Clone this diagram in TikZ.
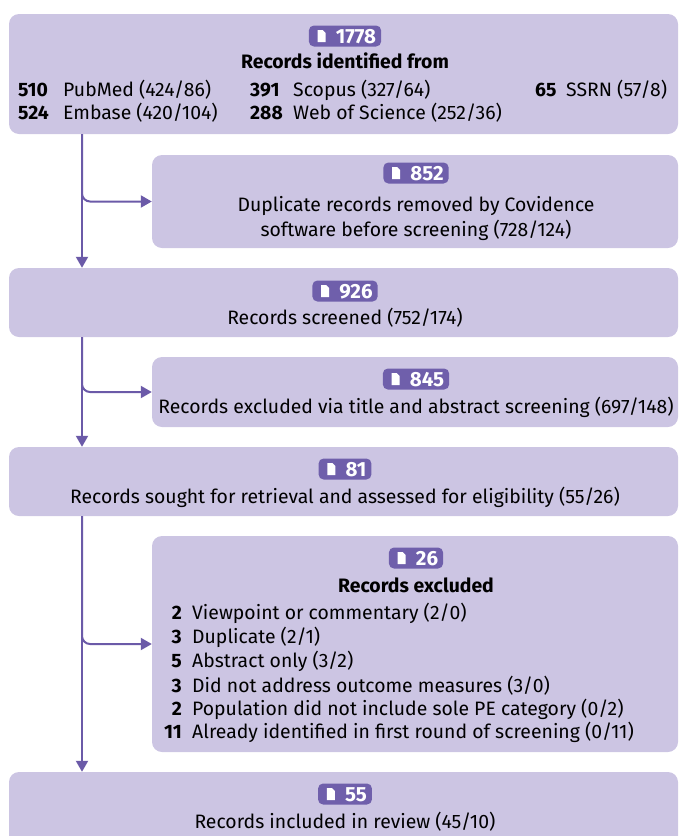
\documentclass[tikz,border=0pt]{standalone}
\usepackage{fontspec}
\setmainfont{Fira Sans}
\usetikzlibrary{arrows.meta}
\definecolor{boxfill}{HTML}{CCC5E3}
\definecolor{badgefill}{HTML}{6F5FAB}
\definecolor{linecol}{HTML}{6B5AA8}
\newcommand{\docicon}[1]{\fill[white] ([xshift=9pt,yshift=-6pt]#1.west) -- ++(0,-12) -- ++(5,0) -- ++(3,3) -- ++(0,9) -- cycle;}
\begin{document}
\begin{tikzpicture}[x=1pt,y=-1pt,
	box/.style={fill=boxfill,rounded corners=10pt,inner sep=0pt},
	badge/.style={fill=badgefill,text=white,font=\bfseries\fontsize{20.5}{20}\selectfont,rounded corners=5pt,inner xsep=5pt,inner ysep=0pt,minimum height=21pt,text height=14pt,text depth=0pt},
	txt/.style={anchor=base,inner sep=0pt,font=\fontsize{19.4}{24}\selectfont},
	num/.style={inner sep=0pt,font=\bfseries\fontsize{19.4}{24}\selectfont},
	arr/.style={draw=linecol,line width=2pt,-{Triangle[length=11pt,width=12pt]}}]
		\clip (0,0) rectangle (679,836);
		\coordinate (T) at (82,0);
		% boxes
		\node[box,minimum width=669pt,minimum height=120pt] (ident) at (343.5,74) {};
		\node[box,minimum width=526pt,minimum height=93pt] (dup) at (415,201.5) {};
		\node[box,minimum width=669pt,minimum height=69pt] (screen) at (343.5,302.5) {};
		\node[box,minimum width=526pt,minimum height=70pt] (titleexcl) at (415,392) {};
		\node[box,minimum width=669pt,minimum height=69pt] (sought) at (343.5,481.5) {};
		\node[box,minimum width=526pt,minimum height=216pt] (excl) at (415,644) {};
		\node[box,minimum width=669pt,minimum height=78pt] (incl) at (343.5,811) {};
		% identification
		\node[badge] (bident) at (345,36) {\hspace{22pt}1778};
		\docicon{bident}
		\node[txt,font=\bfseries\fontsize{19.4}{24}\selectfont] (tident) at (345,68) {Records identified from};
		\node[num,anchor=base west] (n510) at (18,96) {510};
		\node[txt,anchor=base west] (pubmed) at (63,96) {PubMed (424/86)};
		\node[num,anchor=base west] (n391) at (250,96) {391};
		\node[txt,anchor=base west] (scopus) at (293,96) {Scopus (327/64)};
		\node[num,anchor=base west] (n65) at (535,96) {65};
		\node[txt,anchor=base west] (ssrn) at (566,96) {SSRN (57/8)};
		\node[num,anchor=base west] (n524) at (18,119) {524};
		\node[txt,anchor=base west] (embase) at (63,119) {Embase (420/104)};
		\node[num,anchor=base west] (n288) at (250,119) {288};
		\node[txt,anchor=base west] (wos) at (293,119) {Web of Science (252/36)};
		% duplicates
		\node[badge] (bdup) at (416,173) {\hspace{22pt}852};
		\docicon{bdup}
		\node[txt] (tdup1) at (416,211) {Duplicate records removed by Covidence};
		\node[txt] (tdup2) at (416,236) {software before screening (728/124)};
		% screened
		\node[badge] (bscreen) at (345,291) {\hspace{22pt}926};
		\docicon{bscreen}
		\node[txt] (tscreen) at (345,324) {Records screened (752/174)};
		\node[badge] (btitle) at (416,379) {\hspace{22pt}845};
		\docicon{btitle}
		\node[txt] (ttitle) at (416,413) {Records excluded via title and abstract screening (697/148)};
		% eligibility
		\node[badge] (bsought) at (345,469) {\hspace{22pt}81};
		\docicon{bsought}
		\node[txt] (tsought) at (345,503) {Records sought for retrieval and assessed for eligibility (55/26)};
		\node[badge] (bexcl) at (416,558) {\hspace{22pt}26};
		\docicon{bexcl}
		\node[txt,font=\bfseries\fontsize{19.4}{24}\selectfont] (texcl) at (416,592) {Records excluded};
		\node[num,anchor=base east] (e1) at (182,619) {2};
		\node[txt,anchor=base west] (r1) at (192,619) {Viewpoint or commentary (2/0)};
		\node[num,anchor=base east] (e2) at (182,643) {3};
		\node[txt,anchor=base west] (r2) at (192,643) {Duplicate (2/1)};
		\node[num,anchor=base east] (e3) at (182,667) {5};
		\node[txt,anchor=base west] (r3) at (192,667) {Abstract only (3/2)};
		\node[num,anchor=base east] (e4) at (182,692) {3};
		\node[txt,anchor=base west] (r4) at (192,692) {Did not address outcome measures (3/0)};
		\node[num,anchor=base east] (e5) at (182,715) {2};
		\node[txt,anchor=base west] (r5) at (192,715) {Population did not include sole PE category (0/2)};
		\node[num,anchor=base east] (e6) at (182,738) {11};
		\node[txt,anchor=base west] (r6) at (192,738) {Already identified in first round of screening (0/11)};
		% included
		\node[badge] (bincl) at (345,794) {\hspace{22pt}55};
		\docicon{bincl}
		\node[txt] (tincl) at (345,828) {Records included in review (45/10)};
		% arrows
		\draw[arr] (ident.south -| T) -- (screen.north -| T);
		\draw[arr,rounded corners=8pt] (ident.south -| T) |- (dup.west);
		\draw[arr] (screen.south -| T) -- (sought.north -| T);
		\draw[arr,rounded corners=8pt] (screen.south -| T) |- (titleexcl.west);
		\draw[arr] (sought.south -| T) -- (incl.north -| T);
		\draw[arr,rounded corners=8pt] (sought.south -| T) |- (excl.west);
	\end{tikzpicture}
\end{document}
